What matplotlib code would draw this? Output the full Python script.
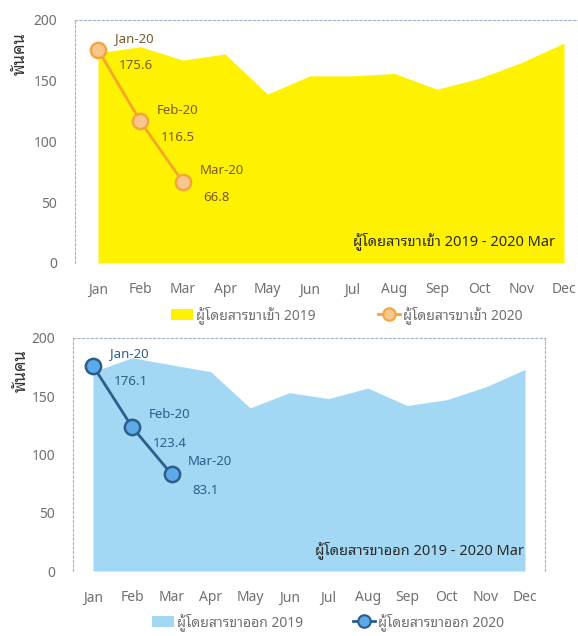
import matplotlib
matplotlib.use('Agg')
import matplotlib.pyplot as plt
from matplotlib.patches import Patch
from matplotlib.lines import Line2D

plt.rcParams['font.family'] = ['Noto Sans', 'Noto Sans Thai Looped', 'DejaVu Sans']

months = ['Jan', 'Feb', 'Mar', 'Apr', 'May', 'Jun',
          'Jul', 'Aug', 'Sep', 'Oct', 'Nov', 'Dec']
labels_2020 = ['Jan-20', 'Feb-20', 'Mar-20']

# passengers arriving (thousand)
arr_2019 = [173, 178, 167, 172, 139, 154, 154, 156, 143, 152, 165, 181]
arr_2020 = [175.6, 116.5, 66.8]

# passengers departing (thousand)
dep_2019 = [171, 183, 177, 171, 140, 153, 148, 157, 142, 147, 158, 173]
dep_2020 = [176.1, 123.4, 83.1]

TICK_C = '#707070'
FRAME_C = '#9fb4c8'


def panel(ax, s2019, s2020, fill_c, line_c, mk_face, mk_edge, txt_c,
          leg19, leg20, note, xlim, leg_anchor, colspace, lab_dy):
    x = range(len(months))
    ax.fill_between(x, s2019, 0, color=fill_c, linewidth=0, zorder=1)
    ax.plot(range(len(s2020)), s2020, color=line_c, lw=2, marker='o',
            ms=11, mfc=mk_face, mec=mk_edge, mew=1.8, zorder=3)
    for i, v in enumerate(s2020):
        ax.annotate(labels_2020[i], (i, v), xytext=(12, lab_dy),
                    textcoords='offset points', color=txt_c, fontsize=9.5,
                    ha='left', va='center')
        ax.annotate(f'{v:.1f}', (i, v), xytext=(15, -11.5),
                    textcoords='offset points', color=txt_c, fontsize=9.5,
                    ha='left', va='center')
    ax.set_xlim(*xlim)
    ax.set_ylim(0, 200)
    ax.set_yticks(range(0, 201, 50))
    ax.set_xticks(list(x))
    ax.set_xticklabels(months)
    ax.tick_params(axis='both', length=0, colors=TICK_C, labelsize=10)
    ax.tick_params(axis='y', pad=13)
    ax.tick_params(axis='x', pad=14)
    for s in ['left', 'top', 'right']:
        ax.spines[s].set_color(FRAME_C)
        ax.spines[s].set_linestyle((0, (2, 2)))
        ax.spines[s].set_linewidth(0.8)
    ax.spines['bottom'].set_visible(False)
    ax.text(-0.108, 0.86, 'พันคน', transform=ax.transAxes, rotation=90,
            fontsize=12, fontweight='bold', color='#333333',
            ha='center', va='center')
    ax.text(0.955, 0.09, note, transform=ax.transAxes, fontsize=10.5,
            fontweight='bold', color='#2a2a2a', ha='right', va='center')
    handles = [Patch(facecolor=fill_c, edgecolor='none'),
               Line2D([], [], color=line_c, lw=2, marker='o', ms=9,
                      mfc=mk_face, mec=mk_edge, mew=1.5)]
    ax.legend(handles, [leg19, leg20], loc='center', ncol=2,
              bbox_to_anchor=leg_anchor, frameon=False, fontsize=10,
              labelcolor=TICK_C, handlelength=1.6, handletextpad=0.2,
              columnspacing=colspace, handleheight=0.9)


fig = plt.figure(figsize=(5.78, 6.36), dpi=100)

ax1 = fig.add_axes([0.1298, 0.5865, 0.8702, 0.3821])
panel(ax1, arr_2019, arr_2020, '#fff200', '#f5a52c', '#f9c78e', '#f2a640',
      '#7a5a2a', 'ผู้โดยสารขาเข้า 2019', 'ผู้โดยสารขาเข้า 2020',
      'ผู้โดยสารขาเข้า 2019 - 2020 Mar', (-0.543, 11.33), (0.54, -0.215),
      4.5, 8)

ax2 = fig.add_axes([0.1263, 0.1022, 0.8166, 0.3664])
panel(ax2, dep_2019, dep_2020, '#a3d8f4', '#2c5e8c', '#5caaea', '#2c5e8c',
      '#2c5e8c', 'ผู้โดยสารขาออก 2019', 'ผู้โดยสารขาออก 2020',
      'ผู้โดยสารขาออก 2019 - 2020 Mar', (-0.509, 11.51), (0.54, -0.22),
      3.6, 9)

fig.savefig('out.png', dpi=100)
